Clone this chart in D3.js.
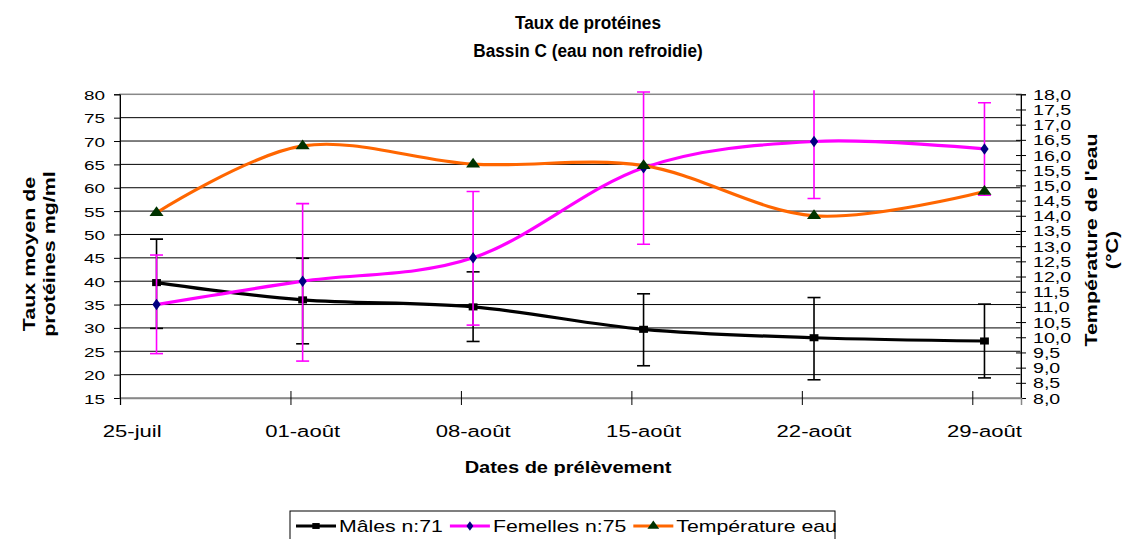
<!DOCTYPE html>
<meta charset="utf-8">
<style>
body { margin: 0; background: #fff; }
svg text { font-family: Arial, "Liberation Sans", sans-serif; fill: #000; }
</style>
<svg width="1125" height="539"></svg>
<script src="https://d3js.org/d3.v7.min.js"></script>
<script>

// sampling dates and values
var dates = ["2008-07-26", "2008-08-01", "2008-08-08", "2008-08-15", "2008-08-22", "2008-08-29"];
var males = [39.7, 36.0, 34.5, 29.7, 27.9, 27.2];
var malesLow = [29.9, 26.6, 27.1, 21.9, 18.9, 19.3];
var malesHigh = [49.0, 44.9, 42.0, 37.3, 36.5, 35.1];
var femelles = [35.0, 40.0, 45.0, 64.3, 69.9, 68.3];
var femellesLow = [24.5, 22.9, 30.6, 47.9, 57.7, 58.4];
var femellesHigh = [45.6, 56.6, 59.2, 80.5, 84.0, 78.2];
var temperature = [14.1, 16.3, 15.7, 15.65, 14.0, 14.8];

var tickDates = ["2008-07-25", "2008-08-01", "2008-08-08", "2008-08-15", "2008-08-22", "2008-08-29"];
var tickLabels = ["25-juil", "01-août", "08-août", "15-août", "22-août", "29-août"];
var legendLabels = ["Mâles n:71", "Femelles n:75", "Température eau"];

var svg = d3.select("svg"),
    margin = {top: 94.3, right: 104, bottom: 141, left: 120},
    width = +svg.attr("width") - margin.left - margin.right,
    height = +svg.attr("height") - margin.top - margin.bottom;

var SX = 1.4; // text in the original is stretched along its baseline

var parseDate = d3.timeParse("%Y-%m-%d");
var noon = function(s) { return d3.timeHour.offset(parseDate(s), 12); };

var x = d3.scaleTime()
    .domain([parseDate("2008-07-25"), parseDate("2008-08-31")])
    .range([0, width]);
var y = d3.scaleLinear().domain([15, 80]).range([height, 0]);
var y2 = d3.scaleLinear().domain([8, 18]).range([height, 0]);

var g = svg.append("g")
    .attr("transform", "translate(" + margin.left + "," + margin.top + ")");

svg.append("defs").append("clipPath")
    .attr("id", "errclip")
  .append("rect")
    .attr("x", -20).attr("y", -4)
    .attr("width", width + 40).attr("height", height + 30);

// gridlines
g.append("g").selectAll("line")
    .data(d3.range(20, 80, 5))
  .enter().append("line")
    .attr("x1", 0).attr("x2", width)
    .attr("y1", function(d) { return y(d); })
    .attr("y2", function(d) { return y(d); })
    .attr("stroke", "#000").attr("stroke-width", 1);

g.append("rect")
    .attr("width", width).attr("height", height)
    .attr("fill", "none").attr("stroke", "#888").attr("stroke-width", 1.5);

// left axis
var yAxis = g.append("g")
    .call(d3.axisLeft(y).tickValues(d3.range(15, 81, 5)).tickSize(6).tickFormat(d3.format("d")));
yAxis.select(".domain").attr("stroke", "#000");
yAxis.selectAll("text")
    .attr("x", null).attr("dy", null)
    .attr("transform", "translate(-15,5) scale(" + SX + ",1)")
    .style("font-size", "13.5px");

// right axis
var comma = function(d) { return d3.format(".1f")(d).replace(".", ","); };
var y2Axis = g.append("g")
    .attr("transform", "translate(" + width + ",0)")
    .call(d3.axisRight(y2).tickValues(d3.range(8, 18.01, 0.5)).tickSize(5).tickFormat(comma));
y2Axis.select(".domain").attr("stroke", "#000");
y2Axis.selectAll(".tick line").attr("x1", -5);
y2Axis.selectAll("text")
    .attr("x", null).attr("dy", null)
    .attr("transform", "translate(12,5) scale(" + SX + ",1)")
    .style("font-size", "14px");

// bottom axis
var xAxis = g.append("g")
    .attr("transform", "translate(0," + height + ")")
    .call(d3.axisBottom(x).tickValues(tickDates.map(parseDate)).tickSize(7).tickFormat(""));
xAxis.select(".domain").attr("stroke", "#888").attr("stroke-width", 1.5);
xAxis.selectAll(".tick line").attr("y1", -7);

g.append("g").selectAll("text")
    .data(tickLabels)
  .enter().append("text")
    .attr("text-anchor", "middle")
    .attr("transform", function(d, i) {
      return "translate(" + x(noon(tickDates[i])) + "," + (height + 39) + ") scale(1.3,1)";
    })
    .style("font-size", "17px")
    .text(function(d) { return d; });

// series
var series = [
  {values: males, low: malesLow, high: malesHigh, scale: y, color: "#000", marker: "square", fill: "#000"},
  {values: femelles, low: femellesLow, high: femellesHigh, scale: y, color: "#ff00ff", marker: "diamond", fill: "#000080"},
  {values: temperature, scale: y2, color: "#ff6600", marker: "triangle", fill: "#003300"}
];

var symbols = {square: d3.symbolSquare, diamond: d3.symbolDiamond, triangle: d3.symbolTriangle};
var sizes = {square: 50, diamond: 38, triangle: 55};

series.forEach(function(s) {
  var pts = s.values.map(function(v, i) { return [x(noon(dates[i])), s.scale(v)]; });

  g.append("path")
      .datum(pts)
      .attr("fill", "none")
      .attr("stroke", s.color)
      .attr("stroke-width", 3.2)
      .attr("stroke-linejoin", "round")
      .attr("d", d3.line().curve(d3.curveCatmullRom.alpha(0)));

  if (s.low) {
    var eb = g.append("g").attr("clip-path", "url(#errclip)")
        .attr("stroke", s.color).attr("stroke-width", 1.6);
    s.values.forEach(function(v, i) {
      var cx = x(noon(dates[i]));
      eb.append("line").attr("x1", cx).attr("x2", cx)
          .attr("y1", s.scale(s.low[i])).attr("y2", s.scale(s.high[i]));
      [s.low[i], s.high[i]].forEach(function(e) {
        eb.append("line").attr("x1", cx - 6.5).attr("x2", cx + 6.5)
            .attr("y1", s.scale(e)).attr("y2", s.scale(e));
      });
    });
  }

  g.append("g").selectAll("path")
      .data(pts)
    .enter().append("path")
      .attr("transform", function(d) { return "translate(" + d[0] + "," + d[1] + ") scale(1.25,1)"; })
      .attr("fill", s.fill)
      .attr("d", d3.symbol().type(symbols[s.marker]).size(sizes[s.marker]));
});

// titles
var title = svg.append("g").style("font-size", "18.5px").style("font-weight", "bold");
title.append("text").attr("text-anchor", "middle")
    .attr("transform", "translate(588,29) scale(0.93,1)").text("Taux de protéines");
title.append("text").attr("text-anchor", "middle")
    .attr("transform", "translate(588,57) scale(0.93,1)").text("Bassin C (eau non refroidie)");

svg.append("text")
    .attr("text-anchor", "middle")
    .attr("transform", "translate(568,473) scale(1.25,1)")
    .style("font-size", "16px").style("font-weight", "bold")
    .text("Dates de prélèvement");

// rotated titles, stretched along the reading direction too
var RS = 1.3;
var leftTitle = svg.append("g").style("font-size", "16.5px").style("font-weight", "bold");
leftTitle.append("text").attr("text-anchor", "middle")
    .attr("transform", "translate(35,254) rotate(-90) scale(" + RS + ",1)").text("Taux moyen de");
leftTitle.append("text").attr("text-anchor", "middle")
    .attr("transform", "translate(55,254) rotate(-90) scale(" + RS + ",1)").text("protéines mg/ml");

var rightTitle = svg.append("g").style("font-size", "16.5px").style("font-weight", "bold");
rightTitle.append("text").attr("text-anchor", "middle")
    .attr("transform", "translate(1097,240) rotate(-90) scale(" + RS + ",1)").text("Température de l'eau");
rightTitle.append("text").attr("text-anchor", "middle")
    .attr("transform", "translate(1118,250) rotate(-90) scale(" + RS + ",1)").text("(°C)");

// legend
var legend = svg.append("g").attr("transform", "translate(290,511)");
legend.append("rect")
    .attr("width", 545).attr("height", 34)
    .attr("fill", "#fff").attr("stroke", "#000").attr("stroke-width", 1);

var lx = 6;
series.forEach(function(s, i) {
  var item = legend.append("g").attr("transform", "translate(" + lx + ",15)");
  item.append("line").attr("x1", 0).attr("x2", 40)
      .attr("stroke", s.color).attr("stroke-width", 3.2);
  item.append("path")
      .attr("transform", "translate(20,0) scale(1.25,1)")
      .attr("fill", s.fill)
      .attr("d", d3.symbol().type(symbols[s.marker]).size(sizes[s.marker] * 0.7));
  var t = item.append("text")
      .attr("transform", "translate(43,6) scale(1.25,1)")
      .style("font-size", "17px")
      .text(legendLabels[i]);
  lx += 43 + t.node().getComputedTextLength() * 1.25 + 7;
});

</script>
